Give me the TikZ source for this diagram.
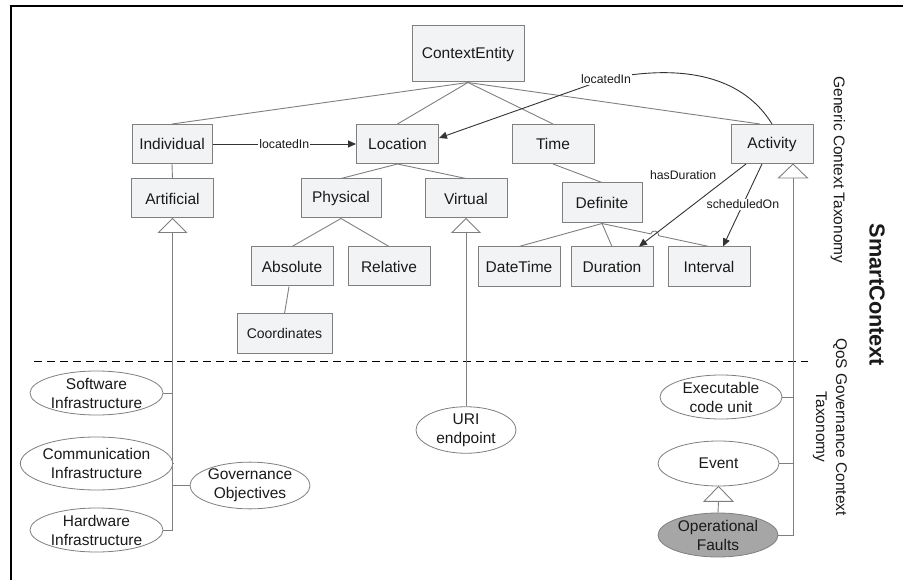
\documentclass[tikz,border=0pt]{standalone}
\usepackage{fontspec}
\setmainfont{Liberation Sans}
\usetikzlibrary{shapes.geometric,arrows.meta}
\definecolor{boxfill}{HTML}{F2F3F4}
\definecolor{edge}{HTML}{7F7F7F}
\definecolor{fault}{HTML}{A6A6A6}
\definecolor{ink}{HTML}{1A1A1A}

\begin{document}
\begin{tikzpicture}[x=1pt,y=-1pt,
  every node/.style={font=\fontsize{15.5}{19}\selectfont, text=ink},
  cls/.style={draw=edge, fill=boxfill, line width=1pt, rectangle, inner sep=0pt,
    minimum width=82pt, minimum height=39pt},
  oval/.style={draw=edge, fill=white, ellipse, line width=0.8pt, inner sep=0pt, align=center},
  link/.style={draw=edge, line width=0.9pt},
  assoc/.style={draw=black!80, line width=0.9pt, -{Triangle[length=8pt,width=7pt]}},
  lbl/.style={font=\fontsize{12.3}{14}\selectfont, fill=white, inner sep=1pt},
  gen/.style={draw=edge, fill=white, line width=0.9pt},
  vtitle/.style={rotate=-90, align=center, font=\fontsize{15.5}{20}\selectfont}
]
\useasboundingbox (0,0) rectangle (903,580);

% frame
\coordinate (fr1) at (903,6);
\coordinate (fr2) at (11,6);
\coordinate (fr3) at (11,580);
\draw[line width=1.6pt] (fr1) -- (fr2) -- (fr3);

% generic context taxonomy: classes
\node[cls, minimum width=112pt, minimum height=56pt] (ce) at (468,54) {ContextEntity};
\node[cls, minimum width=80pt] (ind) at (172,144) {Individual};
\node[cls] (loc) at (397.5,144) {Location};
\node[cls] (time) at (553,144) {Time};
\node[cls] (act) at (772,144) {Activity};
\node[cls] (art) at (172.5,198.5) {Artificial};
\node[cls, minimum width=80pt] (phy) at (341,198.5) {Physical};
\node[cls] (vir) at (466,198.5) {Virtual};
\node[cls, minimum width=80pt, minimum height=40pt] (def) at (602,203) {Definite};
\node[cls] (abs) at (292,266.5) {Absolute};
\node[cls] (rel) at (389,266.5) {Relative};
\node[cls, minimum height=40pt] (dt) at (519,267) {DateTime};
\node[cls, minimum height=40pt] (dur) at (612,267) {Duration};
\node[cls, minimum height=40pt] (int) at (709,267) {Interval};
\node[cls, minimum width=95pt, font=\fontsize{14}{16}\selectfont] (coo) at (284.5,333.5) {Coordinates};

% taxonomy links
\draw[link] (ce.south) -- (ind.north);
\draw[link] (ce.south) -- (loc.north);
\draw[link] (ce.south) -- (time.north);
\draw[link] (ce.south) -- ([xshift=-12pt]act.north);
\draw[link] (ind.south) -- (art.north);
\draw[link] (loc.south) -- (phy.north);
\draw[link] (loc.south) -- (vir.north);
\draw[link] (phy.south) -- (abs.north);
\draw[link] (phy.south) -- (rel.north);
\draw[link] ([xshift=-3pt]abs.south) -- (coo.north);
\draw[link] (time.south) -- (def.north);
\draw[link] (def.south) -- (dt.north);
\draw[link] (def.south) -- (dur.north);
% Definite -> Interval hops over the hasDuration arrow
\coordinate (hopa) at (650.8,233.9);
\coordinate (hopb) at (658.6,235.7);
\draw[link] (def.south) -- (hopa) .. controls (651.9,229) and (659.7,230.8) .. (hopb) -- (int.north);

% associations
\draw[assoc] (ind) -- node[lbl]{locatedIn} (loc);
\coordinate (lc) at (606,79);
\draw[assoc] (act.north) .. controls (745,80) and (690,62) .. (lc) -- ([yshift=6pt]loc.east);
\node[lbl] (lcl) at (lc) {locatedIn};
\draw[assoc] ([xshift=-26pt]act.south) --
  node[lbl, fill=none, pos=0.133, anchor=east, xshift=-14pt]{hasDuration}
  ([xshift=27pt]dur.north);
\draw[assoc] ([xshift=-10pt]act.south) --
  node[lbl, pos=0.49]{scheduledOn} ([xshift=14pt]int.north);

% separator between the two taxonomies
\coordinate (dl) at (34,361);
\coordinate (dr) at (808,361);
\draw[line width=1pt, dash pattern=on 8pt off 5pt] (dl) -- (dr);

% QoS governance context taxonomy: concepts
\node[oval, minimum width=133pt, minimum height=44pt] (sw) at (96.5,393) {Software\\Infrastructure};
\node[oval, minimum width=133pt, minimum height=53pt] (comm) at (96.5,463.5) {Communication\\Infrastructure};
\node[oval, minimum width=133pt, minimum height=44pt] (hw) at (96.5,530) {Hardware\\Infrastructure};
\node[oval, minimum width=120pt, minimum height=45pt] (gov) at (250,485.5) {Governance\\Objectives};
\node[oval, minimum width=100pt, minimum height=44pt] (uri) at (466,430) {URI\\endpoint};
\node[oval, minimum width=122pt, minimum height=44pt] (exe) at (721,397) {Executable\\code unit};
\node[oval, minimum width=121pt, minimum height=45pt] (evt) at (718.5,463.5) {Event};
\node[oval, fill=fault, minimum width=120pt, minimum height=44pt] (opf) at (718,535) {Operational\\Faults};

% generalisation: Artificial
\draw[link] (art.south) ++(0,14) -- (hw.east -| art.south) -- (hw.east);
\draw[link] (sw.east) -- (sw.east -| art.south);
\draw[link] (comm.east) -- (comm.east -| art.south);
\draw[link] (gov.west) -- (gov.west -| art.south);
\draw[gen] (art.south) -- ++(-14,14) -- ++(28,0) -- cycle;

% generalisation: Virtual
\draw[link] (vir.south) ++(0,14) -- (uri.north);
\draw[gen] (vir.south) -- ++(-14,14) -- ++(28,0) -- cycle;

% generalisation: Activity
\coordinate (actg) at ([xshift=21pt]act.south);
\draw[link] (actg) ++(0,14) -- (opf.east -| actg) -- (opf.east);
\draw[link] (exe.east) -- (exe.east -| actg);
\draw[link] (evt.east) -- (evt.east -| actg);
\draw[gen] (actg) -- ++(-14.5,14) -- ++(29,0) -- cycle;

% generalisation: Event
\draw[link] (evt.south) ++(0,15) -- (opf.north);
\draw[gen] (evt.south) -- ++(-14.5,15) -- ++(29,0) -- cycle;

% side titles
\node[vtitle] (gct) at (838,170) {Generic Context Taxonomy};
\node[vtitle] (qos) at (830,427) {QoS Governance Context\\Taxonomy};
\node[rotate=-90, font=\fontsize{21.7}{24}\bfseries] (sc) at (877,295) {SmartContext};
\end{tikzpicture}
\end{document}
